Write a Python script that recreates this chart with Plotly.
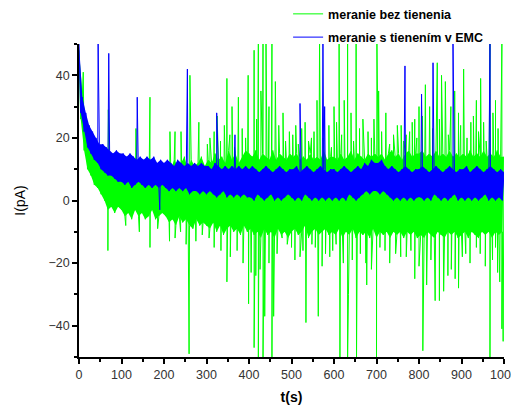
import numpy as np
import plotly.graph_objects as go

# sampling grid of the base noise band (s)
t_base = np.arange(0, 1001, 4)

# meranie bez tienenia - noise band (pA), one value per 4 s
# (values alternate between the top and the bottom of the dense band)
green_base = [
    48, 26, 34, 16, 26, 10, 22, 8, 18, 5, 16, 4, 14, 2, 13, 0, 12, -3, 11, -2, 10, -4, 12, -2, 9,
    -3, 10, -5, 8, -4, 11, -6, 9, -3, 10, -5, 12, -4, 9, -6, 10, -5, 11, -3, 9, -6, 12, -5, 10, -4,
    11, -5, 12, -7, 10, -6, 13, -8, 11, -5, 12, -7, 14, -6, 10, -8, 13, -9, 11, -6, 12, -8, 14, -7, 11,
    -8, 13, -9, 12, -7, 15, -10, 13, -8, 14, -11, 12, -9, 16, -8, 13, -10, 15, -9, 12, -11, 14, -8, 16, -10,
    15, -9, 14, -11, 16, -10, 13, -12, 15, -9, 14, -11, 13, -10, 16, -12, 13, -9, 15, -11, 14, -10, 13, -12, 15,
    -10, 14, -9, 15, -11, 13, -10, 14, -8, 13, -12, 15, -10, 13, -9, 14, -11, 13, -10, 16, -9, 13, -11, 14, -10,
    14, -11, 13, -9, 15, -12, 13, -10, 14, -11, 16, -9, 13, -12, 15, -10, 14, -11, 13, -10, 15, -12, 14, -9, 15,
    -12, 14, -10, 15, -11, 13, -10, 15, -12, 16, -10, 14, -11, 15, -10, 13, -12, 15, -10, 16, -11, 14, -10, 15, -12,
    15, -11, 16, -12, 14, -10, 15, -11, 14, -12, 16, -10, 14, -11, 15, -12, 14, -10, 16, -11, 14, -10, 15, -12, 14,
    -11, 15, -10, 14, -12, 16, -10, 14, -11, 15, -12, 14, -10, 16, -11, 14, -10, 15, -12, 14, -10, 16, -11, 14, -10,
    14,
]

# tall spikes of the unshielded measurement
green_spike_t = [10, 69, 134, 167, 214, 226, 240, 261, 282, 308, 325, 348, 360, 375, 398, 412, 422, 428,
                 433, 440, 447, 454, 462, 480, 495, 510, 532, 547, 560, 566, 588, 600, 612, 624, 632, 640,
                 652, 668, 680, 701, 705, 722, 740, 758, 770, 790, 800, 815, 825, 843, 853, 862, 875, 884,
                 893, 905, 922, 935, 945, 967, 980, 995,
                 68, 167, 213, 239, 259, 306, 334, 348, 372, 399, 405, 412, 422, 433, 437, 447, 454, 458,
                 478, 500, 520, 534, 548, 563, 580, 597, 614, 622, 632, 634, 653, 675, 677, 700, 720, 745,
                 770, 790, 809, 818, 838, 848, 858, 868, 885, 893, 910, 935, 967, 980, 990, 995, 998]
green_spike_v = [41, 29, 23, 33, 22, 22, 22, 40, 25, 20, 27, 39, 30, 33, 40, 48, 50, 35,
                 50, 50, 30, 50, 38, 28, 22, 24, 25, 20, 32, 50, 24, 30, 50, 32, 50, 28,
                 50, 26, 22, 50, 35, 28, 21, 24, 21, 26, 30, 37, 30, 44, 40, 38, 30, 35,
                 28, 42, 25, 32, 39, 50, 32, 50,
                 -16, -15, -13, -10, -49, -12, -16, -26, -16, -33, -23, -47, -50, -50, -37, -20, -50, -37,
                 -12, -15, -18, -39, -14, -37, -17, -16, -50, -20, -50, -30, -50, -20, -27, -50, -16, -17,
                 -18, -25, -48, -27, -32, -32, -29, -24, -25, -28, -17, -15, -50, -15, -26, -41, -45]

# smaller spikes that make the band look hairy
green_mid_t = [302, 318, 333, 342, 355, 366, 384, 392, 418, 470, 486, 503, 516, 524, 540, 553, 574, 594,
               606, 618, 646, 660, 688, 694, 712, 731, 749, 764, 778, 784, 795, 808, 832, 848, 869, 898,
               913, 928, 940, 952, 958, 974, 986,
               110, 142, 185, 226, 252, 275, 290, 318, 356, 386, 416, 426, 466, 490, 508, 527, 556, 572,
               590, 605, 643, 662, 688, 708, 731, 757, 781, 800, 828, 876, 902, 920, 944, 956, 973, 985]
green_mid_v = [18, 22, 19, 24, 21, 17, 23, 20, 26, 24, 19, 21, 18, 23, 19, 22, 20, 17,
               25, 21, 19, 23, 20, 26, 22, 18, 24, 19, 22, 25, 20, 27, 23, 26, 21, 24,
               20, 27, 22, 25, 19, 28, 23,
               -8, -10, -9, -12, -14, -13, -11, -15, -18, -20, -24, -22, -17, -14, -19, -16, -15, -21,
               -18, -14, -19, -17, -22, -15, -20, -18, -16, -21, -19, -22, -18, -20, -17, -21, -19, -23]

# meranie s tienením v EMC - noise band (pA), one value per 4 s
blue_base = [
    50, 28, 33, 22, 28, 17, 24, 15, 22, 13, 20, 12, 18, 10, 18, 9, 17, 8, 16, 8, 15, 7, 16, 6, 15,
    6, 15, 5, 14, 6, 15, 4, 14, 5, 13, 6, 14, 5, 13, 4, 14, 5, 13, 4, 14, 5, 12, 4, 13, 5,
    12, 4, 13, 3, 12, 4, 11, 3, 13, 4, 12, 3, 11, 4, 12, 2, 11, 3, 12, 3, 11, 2, 12, 3, 11,
    2, 11, 3, 10, 2, 12, 1, 11, 2, 10, 3, 11, 1, 10, 2, 11, 1, 10, 2, 11, 1, 10, 2, 11, 1,
    10, 1, 11, 0, 10, 2, 9, 1, 10, 0, 11, 1, 10, 2, 9, 0, 10, 1, 11, 0, 10, 1, 9, 2, 10,
    1, 10, 0, 11, 1, 9, 0, 10, 2, 11, 1, 10, 0, 9, 1, 10, 0, 11, 1, 10, 0, 9, 1, 10, 0,
    10, 1, 9, 0, 10, 1, 11, 0, 10, 2, 9, 1, 10, 0, 11, 1, 10, 2, 12, 3, 11, 2, 13, 3, 12,
    3, 12, 2, 13, 3, 11, 2, 10, 1, 11, 0, 10, 1, 9, 0, 10, 1, 11, 0, 10, 1, 9, 0, 10, 1,
    10, 1, 11, 0, 10, 1, 9, 0, 10, 2, 11, 1, 10, 0, 9, 1, 10, 0, 11, 1, 10, 2, 9, 0, 10,
    1, 10, 0, 11, 1, 9, 0, 10, 1, 11, 0, 10, 1, 9, 2, 10, 0, 11, 1, 10, 0, 9, 1, 10, 0,
    9,
]

blue_spike_t = [45, 70, 137, 190, 255, 324, 367, 520, 574, 578, 767, 806, 833, 880, 967]
blue_spike_v = [50, 47, 33, -3, 42, 28, 21, 31, 50, 30, 43, 34, 44, 50, 50]

GREEN = "#00FF00"
BLUE = "#0000FF"


def merge(t, v, *extra):
    tt = [np.asarray(t, float)]
    vv = [np.asarray(v, float)]
    for i in range(0, len(extra), 2):
        tt.append(np.asarray(extra[i], float))
        vv.append(np.asarray(extra[i + 1], float))
    tt = np.concatenate(tt)
    vv = np.concatenate(vv)
    order = np.argsort(tt, kind="stable")
    return tt[order], vv[order]


def band(fig, t, v, color):
    # solid core between the top (even samples) and bottom (odd samples) of the band
    fig.add_trace(go.Scatter(x=t[1::2], y=v[1::2], mode="lines", line=dict(width=0, color=color),
                             showlegend=False, hoverinfo="skip"))
    fig.add_trace(go.Scatter(x=t[0::2], y=v[0::2], mode="lines", line=dict(width=0, color=color),
                             fill="tonexty", fillcolor=color, showlegend=False, hoverinfo="skip"))


gt, gv = merge(t_base, green_base, green_spike_t, green_spike_v, green_mid_t, green_mid_v)
bt, bv = merge(t_base, blue_base, blue_spike_t, blue_spike_v)

fig = go.Figure()
band(fig, t_base, np.asarray(green_base, float), GREEN)
fig.add_trace(go.Scatter(x=gt, y=gv, mode="lines", name="meranie bez tienenia",
                         legendgroup="g", line=dict(color=GREEN, width=1, simplify=False)))
band(fig, t_base, np.asarray(blue_base, float), BLUE)
fig.add_trace(go.Scatter(x=bt, y=bv, mode="lines", name="meranie s tienením v EMC",
                         legendgroup="b", line=dict(color=BLUE, width=1, simplify=False)))

axis_common = dict(
    showline=True, linecolor="black", linewidth=1.5, mirror=False,
    ticks="outside", ticklen=5, tickwidth=1.5, tickcolor="black",
    showgrid=False, zeroline=False, automargin=False,
    tickfont=dict(family="Liberation Sans, Arial", size=12.5, color="#333333"),
)

# the page body adds an 8px offset, so the figure is 8px smaller than the window
fig.update_layout(
    width=511, height=397,
    margin=dict(l=71, r=15, t=36, b=48, autoexpand=False),
    paper_bgcolor="white", plot_bgcolor="white",
    font=dict(family="Liberation Sans, Arial", color="black"),
    showlegend=True,
    legend=dict(x=0.492, y=1.143, xanchor="left", yanchor="top",
                bgcolor="rgba(0,0,0,0)", tracegroupgap=4,
                font=dict(family="Liberation Sans, Arial", size=12.5, color="black", weight="bold")),
    xaxis=dict(range=[0, 1000], dtick=100, tick0=0,
               minor=dict(dtick=50, ticks="outside", ticklen=3, tickcolor="black", tickwidth=1.5),
               title=dict(text="t(s)", font=dict(size=14, weight="bold"), standoff=12),
               **axis_common),
    yaxis=dict(range=[-50, 50], dtick=20, tick0=0,
               minor=dict(dtick=10, ticks="outside", ticklen=3, tickcolor="black", tickwidth=1.5),
               title=dict(text="I(pA)", font=dict(size=14), standoff=20),
               **axis_common),
)

fig.write_html("out.html")
